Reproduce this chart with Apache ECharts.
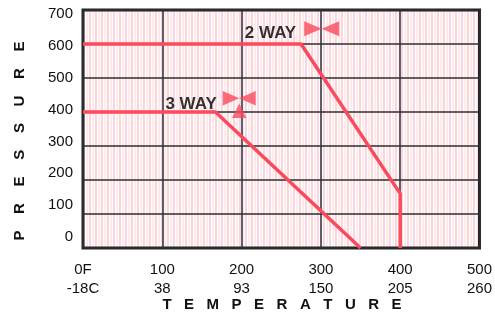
<!DOCTYPE html>
<html>
<head>
<meta charset="utf-8">
<script src="https://cdn.jsdelivr.net/npm/echarts@6/dist/echarts.min.js"></script>
<style>
  html, body { margin: 0; padding: 0; background: #fff; }
  #main { width: 495px; height: 316px; }
</style>
</head>
<body>
<div id="main"></div>
<script>
// temperature ticks (F) and matching Celsius labels
const tempF = [0, 100, 200, 300, 400, 500]
const tempFLabels = ['0F', '100', '200', '300', '400', '500']
const tempCLabels = ['-18C', '38', '93', '150', '205', '260']
const pressureTicks = [0, 100, 200, 300, 400, 500, 600, 700]

// rating curves [tempF, pressure]
const twoWay = [[0, 600], [275, 600], [400, 160], [400, 0]]
const threeWay = [[0, 400], [167, 400], [350, 0]]

// valve symbol positions [tempF, pressure]
const twoWayValve = [[301, 645]]
const threeWayValve = [[197, 422]]

const red = '#fa4a5c'

// light pink / cream striped fill of the plot area
const pat = document.createElement('canvas')
pat.width = 6
pat.height = 1
const pctx = pat.getContext('2d')
const stripes = ['#f9d6e3', '#ffffff', '#fff3de', '#fde6ee', '#fffafa', '#f8d3e1']
stripes.forEach((c, i) => { pctx.fillStyle = c; pctx.fillRect(i, 0, 1, 1) })

const chart = echarts.init(document.getElementById('main'))

const option = {
  animation: false,
  textStyle: { fontFamily: 'Liberation Sans, Arial, sans-serif' },
  grid: {
    left: 83, right: 12, top: 10, bottom: 68,
    show: true,
    backgroundColor: { image: pat, repeat: 'repeat' },
    borderColor: '#222',
    borderWidth: 3
  },
  xAxis: {
    type: 'value',
    min: 0, max: 500, interval: 100,
    axisLine: { show: false },
    axisTick: { show: false },
    splitLine: { lineStyle: { color: '#2e2e38', width: 1.5 } },
    axisLabel: {
      color: '#111', fontSize: 15, lineHeight: 19, margin: 12,
      formatter: v => {
        const i = tempF.indexOf(v)
        return i < 0 ? '' : tempFLabels[i] + '\n' + tempCLabels[i]
      }
    }
  },
  yAxis: [
    {
      type: 'value',
      min: 0, max: 700, interval: 100,
      axisLine: { show: false },
      axisTick: { show: false },
      splitLine: { lineStyle: { color: '#2e2e2e', width: 1.5 } },
      axisLabel: { show: false }
    },
    {
      type: 'value',
      min: -34.7, max: 712.6,
      position: 'left',
      axisLine: { show: false },
      axisTick: { show: false },
      splitLine: { show: false },
      axisLabel: {
        color: '#111', fontSize: 15, margin: 10,
        customValues: pressureTicks
      }
    }
  ],
  graphic: [
    {
      type: 'text', x: 20, y: 141, rotation: Math.PI / 2,
      style: {
        text: 'P    R    E    S    S    U    R    E',
        font: 'bold 15px "Liberation Sans", Arial, sans-serif',
        fill: '#111', align: 'center', verticalAlign: 'middle'
      }
    },
    {
      type: 'text', x: 282, y: 305,
      style: {
        text: 'T   E   M   P   E   R   A   T   U   R   E',
        font: 'bold 15px "Liberation Sans", Arial, sans-serif',
        fill: '#111', align: 'center', verticalAlign: 'middle'
      }
    }
  ],
  series: [
    {
      name: '2 WAY', type: 'line', data: twoWay,
      symbol: 'none', lineStyle: { color: red, width: 3.5 }, z: 3
    },
    {
      name: '3 WAY', type: 'line', data: threeWay,
      symbol: 'none', lineStyle: { color: red, width: 3.5 }, z: 3
    },
    {
      type: 'scatter', data: twoWayValve,
      symbol: 'path://M0,0 L17,7 L0,14 Z M34,0 L17,7 L34,14 Z',
      symbolSize: [35, 15],
      itemStyle: { color: red },
      label: {
        show: true, position: 'left', distance: 8, formatter: '2 WAY',
        color: '#000', fontSize: 17, fontWeight: 'bold', offset: [0, 5]
      },
      z: 4
    },
    {
      type: 'scatter', data: threeWayValve,
      symbol: 'path://M0,0 L16,7 L0,14 Z M32,0 L16,7 L32,14 Z M16,12 L23,26 L9,26 Z',
      symbolSize: [33, 27],
      itemStyle: { color: red },
      label: {
        show: true, position: 'left', distance: 6, formatter: '3 WAY',
        color: '#000', fontSize: 17, fontWeight: 'bold', offset: [0, 0]
      },
      z: 4
    }
  ]
}
chart.setOption(option)
</script>
</body>
</html>
